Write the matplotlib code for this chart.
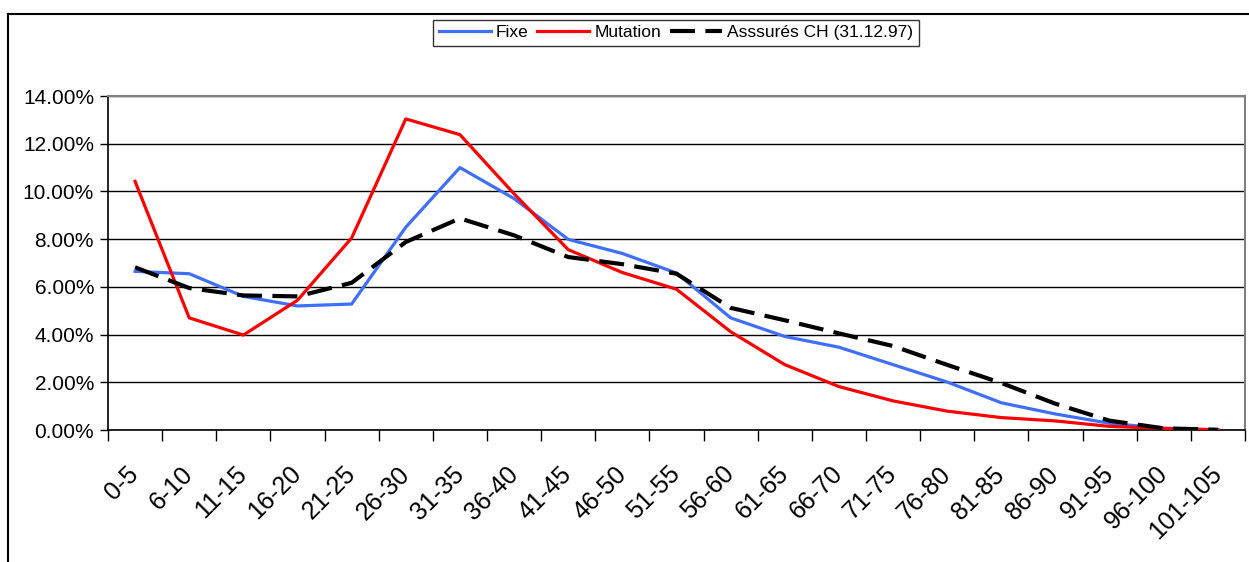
import matplotlib.pyplot as plt
from matplotlib.lines import Line2D
from matplotlib.ticker import FuncFormatter
import numpy as np

plt.rcParams['font.family'] = ['Liberation Sans', 'DejaVu Sans']

# Classes d'âge
classes = ['0-5', '6-10', '11-15', '16-20', '21-25', '26-30', '31-35', '36-40',
           '41-45', '46-50', '51-55', '56-60', '61-65', '66-70', '71-75', '76-80',
           '81-85', '86-90', '91-95', '96-100', '101-105']

# Répartition en % par classe d'âge
fixe = [6.65, 6.55, 5.6, 5.2, 5.28, 8.5, 11.0, 9.7, 7.99, 7.4, 6.58, 4.7,
        3.92, 3.47, 2.74, 2.01, 1.14, 0.67, 0.28, 0.07, 0.0]
mutation = [10.42, 4.7, 3.98, 5.44, 8.05, 13.04, 12.38, 9.9, 7.56, 6.6, 5.9,
            4.12, 2.74, 1.82, 1.22, 0.79, 0.52, 0.38, 0.15, 0.07, 0.01]
assures = [6.82, 5.95, 5.64, 5.6, 6.17, 7.88, 8.87, 8.16, 7.25, 6.95, 6.55,
           5.12, 4.6, 4.05, 3.52, 2.73, 1.97, 1.1, 0.39, 0.07, 0.01]

x = np.arange(len(classes))

fig = plt.figure(figsize=(12.49, 5.62), dpi=100)
ax = fig.add_axes([108 / 1249, 1 - 430 / 562, (1245 - 108) / 1249, (430 - 96) / 562])

ax.plot(x, fixe, color='#3f6fff', linewidth=2.3, label='Fixe', zorder=3)
ax.plot(x, mutation, color='#ff0000', linewidth=2.3, label='Mutation', zorder=4)
l3, = ax.plot(x, assures, color='black', linewidth=3, label='Asssurés CH (31.12.97)', zorder=5)
l3.set_dashes((6, 2.5))

ax.set_xlim(-0.5, len(classes) - 0.5)
ax.set_ylim(0, 14)
ax.set_yticks(np.arange(0, 15, 2))
ax.yaxis.set_major_formatter(FuncFormatter(lambda v, p: f'{v:.2f}%'))
ax.grid(axis='y', color='black', linewidth=1)
ax.set_axisbelow(True)

ax.set_xticks(x)
ax.set_xticklabels(classes, rotation=45, ha='right', va='center',
                   rotation_mode='anchor', fontsize=18)
ax.set_xticks(np.arange(-0.5, len(classes), 1), minor=True)
ax.tick_params(axis='x', which='major', length=0, pad=29)
ax.tick_params(axis='x', which='minor', length=8, width=1, direction='out')
ax.tick_params(axis='y', length=6, width=1, direction='out', labelsize=15, pad=4)

for s in ['left', 'bottom']:
    ax.spines[s].set_color('black')
    ax.spines[s].set_linewidth(1.2)
for s in ['top', 'right']:
    ax.spines[s].set_color('#808080')
    ax.spines[s].set_linewidth(1.5)

leg = fig.legend(loc='upper center', bbox_to_anchor=(676 / 1249, 1 - 20 / 562), ncol=3,
                 fontsize=12.5, frameon=True, fancybox=False, edgecolor='black',
                 handlelength=3, columnspacing=0.5, handletextpad=0.3,
                 borderpad=0.3, borderaxespad=0)
leg.get_frame().set_linewidth(1)

# cadre extérieur du graphique
fig.add_artist(Line2D([8 / 1249, 8 / 1249], [0, 1 - 14 / 562], color='black', linewidth=1.5))
fig.add_artist(Line2D([8 / 1249, 1], [1 - 14 / 562, 1 - 14 / 562], color='black', linewidth=1.5))

plt.savefig('out.png', dpi=100)
